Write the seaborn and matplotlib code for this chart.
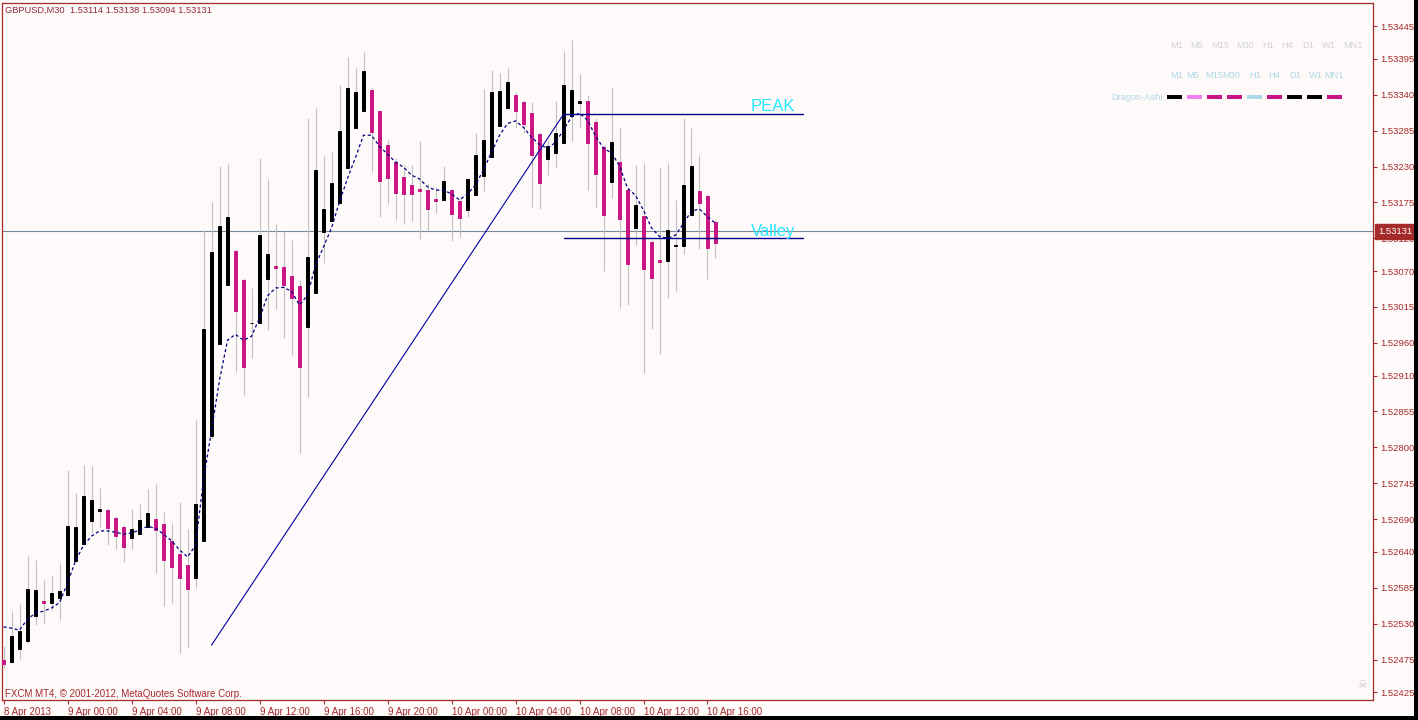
import matplotlib
matplotlib.use("Agg")
import matplotlib.pyplot as plt
import matplotlib.transforms as mtransforms
from matplotlib.patches import Rectangle
import seaborn as sns

# ---------------- data ----------------
symbol_title = "GBPUSD,M30  1.53114 1.53138 1.53094 1.53131"
copyright_text = "FXCM MT4, \u00a9 2001-2012, MetaQuotes Software Corp."

bar_index = list(range(90))

open_ = [1.52474, 1.52471, 1.52491, 1.52503, 1.52542, 1.52564, 1.52562, 1.52569, 1.52574, 1.52626,
         1.52652, 1.52687, 1.52703, 1.52704, 1.52692, 1.52678, 1.52661, 1.52667, 1.52678, 1.52690,
         1.52683, 1.52657, 1.52637, 1.52620, 1.52600, 1.52657, 1.52817, 1.52958, 1.53048, 1.53101,
         1.53056, 1.52990, 1.52990, 1.53058, 1.53077, 1.53076, 1.53062, 1.53047, 1.52984, 1.53036,
         1.53130, 1.53146, 1.53174, 1.53228, 1.53289, 1.53315, 1.53347, 1.53315, 1.53263, 1.53237,
         1.53214, 1.53202, 1.53195, 1.53194, 1.53180, 1.53179, 1.53194, 1.53177, 1.53163, 1.53186,
         1.53215, 1.53244, 1.53292, 1.53319, 1.53339, 1.53329, 1.53312, 1.53280, 1.53241, 1.53251,
         1.53266, 1.53307, 1.53327, 1.53330, 1.53298, 1.53260, 1.53206, 1.53237, 1.53194, 1.53136,
         1.53154, 1.53114, 1.53087, 1.53085, 1.53108, 1.53108, 1.53156, 1.53192, 1.53185, 1.53145]

high = [1.52496, 1.52549, 1.52560, 1.52634, 1.52627, 1.52597, 1.52604, 1.52623, 1.52765, 1.52730,
        1.52773, 1.52771, 1.52738, 1.52707, 1.52695, 1.52681, 1.52706, 1.52713, 1.52736, 1.52744,
        1.52701, 1.52684, 1.52716, 1.52675, 1.52842, 1.53133, 1.53176, 1.53231, 1.53234, 1.53104,
        1.53059, 1.53044, 1.53243, 1.53211, 1.53142, 1.53131, 1.53117, 1.53056, 1.53304, 1.53319,
        1.53246, 1.53252, 1.53355, 1.53398, 1.53381, 1.53405, 1.53352, 1.53316, 1.53270, 1.53243,
        1.53232, 1.53232, 1.53269, 1.53203, 1.53198, 1.53231, 1.53197, 1.53182, 1.53212, 1.53281,
        1.53349, 1.53378, 1.53373, 1.53381, 1.53344, 1.53332, 1.53329, 1.53283, 1.53270, 1.53330,
        1.53407, 1.53424, 1.53372, 1.53339, 1.53304, 1.53263, 1.53352, 1.53290, 1.53197, 1.53232,
        1.53235, 1.53117, 1.53229, 1.53235, 1.53179, 1.53304, 1.53289, 1.53247, 1.53188, 1.53148]

low = [1.52462, 1.52470, 1.52476, 1.52500, 1.52528, 1.52529, 1.52551, 1.52536, 1.52572, 1.52626,
       1.52652, 1.52669, 1.52678, 1.52650, 1.52644, 1.52624, 1.52644, 1.52667, 1.52678, 1.52608,
       1.52557, 1.52562, 1.52485, 1.52493, 1.52585, 1.52657, 1.52814, 1.52958, 1.53048, 1.52915,
       1.52880, 1.52937, 1.52990, 1.52980, 1.53012, 1.52967, 1.52941, 1.52791, 1.52877, 1.53036,
       1.53082, 1.53146, 1.53174, 1.53228, 1.53289, 1.53315, 1.53221, 1.53153, 1.53172, 1.53148,
       1.53142, 1.53146, 1.53119, 1.53131, 1.53159, 1.53179, 1.53116, 1.53122, 1.53153, 1.53186,
       1.53192, 1.53244, 1.53292, 1.53319, 1.53289, 1.53281, 1.53168, 1.53165, 1.53217, 1.53228,
       1.53266, 1.53269, 1.53289, 1.53194, 1.53166, 1.53070, 1.53182, 1.53013, 1.53018, 1.53110,
       1.52914, 1.52981, 1.52943, 1.53029, 1.53039, 1.53096, 1.53156, 1.53104, 1.53058, 1.53090]

close = [1.52468, 1.52511, 1.52519, 1.52583, 1.52582, 1.52562, 1.52577, 1.52580, 1.52679, 1.52678,
         1.52725, 1.52719, 1.52705, 1.52676, 1.52664, 1.52647, 1.52675, 1.52689, 1.52699, 1.52673,
         1.52627, 1.52617, 1.52600, 1.52583, 1.52713, 1.52981, 1.53099, 1.53139, 1.53153, 1.53009,
         1.52923, 1.52991, 1.53125, 1.53096, 1.53075, 1.53048, 1.53029, 1.52923, 1.53091, 1.53225,
         1.53165, 1.53205, 1.53284, 1.53350, 1.53344, 1.53376, 1.53283, 1.53208, 1.53212, 1.53189,
         1.53188, 1.53188, 1.53192, 1.53165, 1.53177, 1.53208, 1.53157, 1.53151, 1.53211, 1.53247,
         1.53270, 1.53344, 1.53345, 1.53359, 1.53315, 1.53295, 1.53247, 1.53205, 1.53261, 1.53281,
         1.53355, 1.53347, 1.53330, 1.53266, 1.53218, 1.53156, 1.53267, 1.53150, 1.53081, 1.53171,
         1.53073, 1.53059, 1.53084, 1.53133, 1.53110, 1.53202, 1.53231, 1.53174, 1.53105, 1.53113]

ma_line = [1.52525, 1.52523, 1.52520, 1.52537, 1.52546, 1.52549, 1.52554, 1.52562, 1.52592, 1.52626,
           1.52650, 1.52664, 1.52672, 1.52672, 1.52670, 1.52667, 1.52669, 1.52673, 1.52679, 1.52676,
           1.52667, 1.52657, 1.52643, 1.52632, 1.52650, 1.52750, 1.52826, 1.52903, 1.52964, 1.52973,
           1.52964, 1.52970, 1.52998, 1.53032, 1.53044, 1.53045, 1.53039, 1.53018, 1.53033, 1.53079,
           1.53107, 1.53136, 1.53176, 1.53212, 1.53244, 1.53278, 1.53278, 1.53261, 1.53249, 1.53237,
           1.53229, 1.53217, 1.53211, 1.53199, 1.53194, 1.53194, 1.53188, 1.53179, 1.53188, 1.53202,
           1.53225, 1.53252, 1.53278, 1.53296, 1.53300, 1.53290, 1.53275, 1.53264, 1.53258, 1.53267,
           1.53286, 1.53306, 1.53312, 1.53301, 1.53277, 1.53258, 1.53251, 1.53231, 1.53197, 1.53186,
           1.53163, 1.53136, 1.53123, 1.53120, 1.53125, 1.53143, 1.53162, 1.53165, 1.53153, 1.53143]

time_tick_bars = [0, 8, 16, 24, 32, 40, 48, 56, 64, 72, 80, 88]
time_tick_labels = ["8 Apr 2013", "9 Apr 00:00", "9 Apr 04:00", "9 Apr 08:00", "9 Apr 12:00",
                    "9 Apr 16:00", "9 Apr 20:00", "10 Apr 00:00", "10 Apr 04:00", "10 Apr 08:00",
                    "10 Apr 12:00", "10 Apr 16:00"]
price_ticks = [1.53445, 1.53395, 1.53340, 1.53285, 1.53230, 1.53175, 1.53120, 1.53070, 1.53015,
               1.52960, 1.52910, 1.52855, 1.52800, 1.52745, 1.52690, 1.52640, 1.52585, 1.52530,
               1.52475, 1.52425]

current_price = 1.53131
peak_bars = [70, 100]
peak_price = 1.53310
valley_bars = [70, 100]
valley_price = 1.53120
trend_bars = [26, 70]
trend_prices = [1.52497, 1.53310]

tf_row1 = ["M1", "M5", "M15", "M30", "H1", "H4", "D1", "W1", "MN1"]
tf_row2 = ["M1", "M5", "M15", "M30", "H1", "H4", "D1", "W1", "MN1"]
dragon_colors = ["#000000", "#EE82EE", "#C71585", "#C71585", "#ADD8E6",
                 "#C71585", "#000000", "#000000", "#C71585"]

# ---------------- style ----------------
BG = "#FFFAFA"
FRAME = "#A52A2A"
BULL = "#000000"
BEAR = "#C71585"
WICK = "#C0C0C0"

sns.set_style("white", rc={"axes.facecolor": BG, "figure.facecolor": BG,
                           "axes.edgecolor": FRAME})
plt.rcParams["font.family"] = ["Liberation Sans", "DejaVu Sans"]

W, H = 1418, 720
fig = plt.figure(figsize=(W / 100, H / 100), dpi=100)
fig.patch.set_facecolor(BG)
ax = fig.add_axes([2 / W, 20 / H, 1371 / W, 697.3 / H])
ax.set_facecolor(BG)

# current price line (behind candles)
ax.axhline(current_price, color="#778899", lw=0.8, zorder=1)

# wicks
ax.vlines(bar_index, low, high, color=WICK, lw=0.8, zorder=2)
# bodies
body_colors = [BULL if c >= o else BEAR for o, c in zip(open_, close)]
heights = [c - o for o, c in zip(open_, close)]
ax.bar(bar_index, heights, bottom=open_, width=0.3, color=body_colors,
       edgecolor=body_colors, linewidth=0.7, zorder=3)

# moving average (dashed navy)
sns.lineplot(x=bar_index, y=ma_line, ax=ax, color="#000080", linewidth=0.9,
             linestyle=(0, (2.5, 2)), zorder=5, estimator=None, sort=False)

# trend line + peak / valley lines
ax.plot(trend_bars, trend_prices, color="#0000A0", lw=0.8, zorder=6)
ax.plot(peak_bars, [peak_price, peak_price], color="#00008B", lw=1.0, zorder=6)
ax.plot(valley_bars, [valley_price, valley_price], color="#00008B", lw=1.0, zorder=6)
ax.annotate("PEAK", xy=(99, peak_price), xytext=(0, 3), textcoords="offset pixels",
            ha="right", va="baseline", color="#22E6FF", fontsize=12, zorder=7)
ax.annotate("Valley", xy=(99, valley_price), xytext=(0, 2), textcoords="offset pixels",
            ha="right", va="baseline", color="#22E6FF", fontsize=12, zorder=7)

ax.set_xlim(-0.19, 171.19)
ax.set_ylim(1.52413, 1.53481)

# axes styling
for sp in ax.spines.values():
    sp.set_color(FRAME)
    sp.set_linewidth(0.9)
ax.yaxis.tick_right()
ax.set_yticks(price_ticks)
ax.set_yticklabels([f"{p:.5f}" for p in price_ticks])
ax.tick_params(axis="y", which="both", right=True, left=False, length=3, width=0.8,
               color=FRAME, labelcolor=FRAME, labelsize=6.8, pad=2)
ax.set_xticks(time_tick_bars)
ax.set_xticklabels(time_tick_labels)
ax.tick_params(axis="x", bottom=True, length=3, width=0.8, color=FRAME,
               labelcolor=FRAME, labelsize=7, pad=2)
for lbl in ax.get_xticklabels():
    lbl.set_ha("left")
ax.set_xlabel("")
ax.set_ylabel("")
ax.grid(False)

# current price box on the right scale
trans = mtransforms.blended_transform_factory(ax.transAxes, ax.transData)
ax.annotate(f"{current_price:.5f}", xy=(1, current_price), xycoords=trans,
            xytext=(5, 0), textcoords="offset pixels", ha="left", va="center",
            color="white", fontsize=6.8, annotation_clip=False, zorder=10,
            bbox=dict(boxstyle="square,pad=0.3", fc="#A52A2A", ec="#A52A2A"))

# ---------------- overlay texts ----------------
def fx(px):
    return px / W

def fy(py):
    return 1 - py / H

fig.text(fx(5), fy(10), symbol_title, ha="left", va="center", fontsize=6.7, color="#8E2A3A")
fig.text(fx(5), fy(694), copyright_text, ha="left", va="center", fontsize=7, color=FRAME)

row1_x = [1170, 1190, 1211, 1236, 1262, 1281, 1302, 1322, 1343]
row2_x = [1170, 1186, 1205, 1222, 1249, 1268, 1289, 1309, 1324]
for t, x in zip(tf_row1, row1_x):
    fig.text(fx(x), fy(46), t, ha="left", va="center", fontsize=6.7, color="#D3D3D3")
for t, x in zip(tf_row2, row2_x):
    fig.text(fx(x), fy(76), t, ha="left", va="center", fontsize=6.7, color="#ADD8E6")
fig.text(fx(1163), fy(97), "Dragon-Ashi", ha="right", va="center", fontsize=6.7, color="#ADD8E6")
for i, c in enumerate(dragon_colors):
    x0 = 1167 + 20 * i
    fig.add_artist(Rectangle((fx(x0), fy(99)), 15 / W, 4 / H, transform=fig.transFigure,
                             facecolor=c, edgecolor="none"))

fig.text(fx(1362), fy(685), "\u2620", ha="center", va="center", fontsize=8,
         color="#C8C8C8", family=["DejaVu Sans"])

# black strips on the right and bottom edges
fig.add_artist(Rectangle((fx(1414), 0), 4 / W, 1, transform=fig.transFigure,
                         facecolor="black", edgecolor="none"))
fig.add_artist(Rectangle((0, 0), 1, 4 / H, transform=fig.transFigure,
                         facecolor="black", edgecolor="none"))

fig.savefig("out.png", dpi=100, facecolor=BG)
